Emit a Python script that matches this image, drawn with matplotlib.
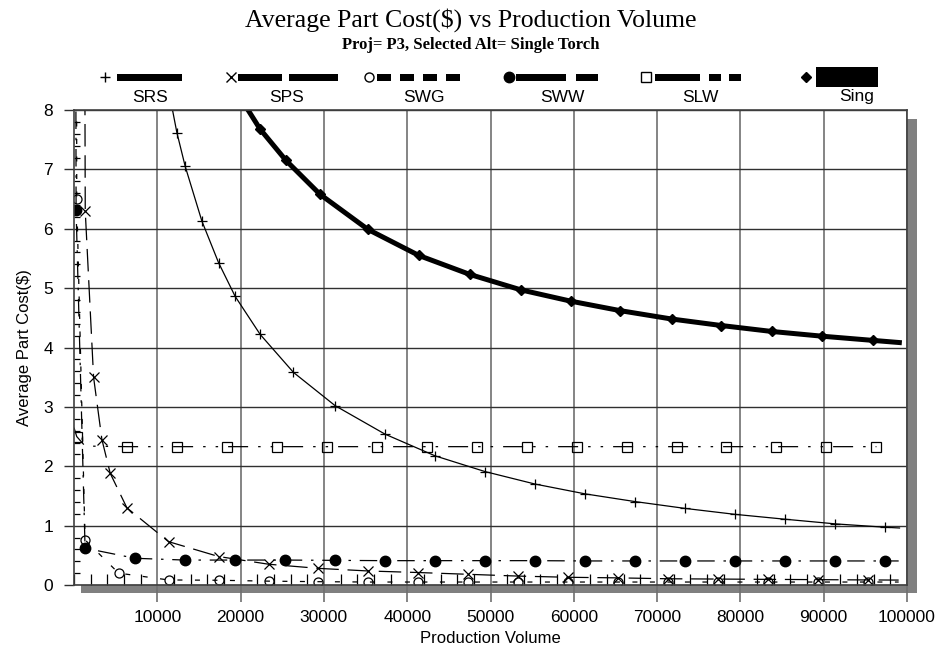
import numpy as np
import matplotlib
matplotlib.use("Agg")
import matplotlib.pyplot as plt
from matplotlib.patches import Rectangle
from matplotlib.ticker import MultipleLocator

# data (production volume, average part cost $)
srs_x = [11000, 12350, 13350, 15350, 17350, 19350, 22350, 26350, 31350, 37350, 43350,
         49350, 55350, 61350, 67350, 73350, 79350, 85350, 91350, 97350, 99100]
srs_y = [8.6, 7.62, 7.05, 6.13, 5.43, 4.86, 4.22, 3.58, 3.02, 2.54, 2.175,
         1.91, 1.70, 1.535, 1.405, 1.29, 1.19, 1.108, 1.03, 0.973, 0.96]

sps_x = [1200, 1350, 2350, 3350, 4350, 6350, 11350, 17350, 23350, 29350, 35350, 41350,
         47350, 53350, 59350, 65350, 71350, 77350, 83350, 89350, 95350, 99000]
sps_y = [14.0, 6.3, 3.5, 2.45, 1.88, 1.3, 0.73, 0.48, 0.35, 0.28, 0.236, 0.21,
         0.18, 0.15, 0.13, 0.12, 0.105, 0.10, 0.095, 0.09, 0.085, 0.083]

swg_x = [230, 330, 1330, 5350, 11350, 17350, 23350, 29350, 35350, 41350, 47350,
         53350, 59350, 65350, 71350, 77350, 83350, 89350, 95350, 99000]
swg_y = [20.0, 6.5, 0.76, 0.2, 0.085, 0.08, 0.065, 0.056, 0.05, 0.05, 0.05,
         0.05, 0.05, 0.05, 0.05, 0.05, 0.05, 0.05, 0.05, 0.05]

sww_x = [150, 250, 1330, 7330, 13330, 19330, 25330, 31330, 37330, 43330, 49330,
         55330, 61330, 67330, 73330, 79330, 85330, 91330, 97330, 99000]
sww_y = [15.0, 6.32, 0.62, 0.45, 0.42, 0.42, 0.42, 0.415, 0.41, 0.41, 0.41,
         0.41, 0.405, 0.405, 0.405, 0.405, 0.405, 0.405, 0.405, 0.405]

slw_x = [0, 330, 1330, 6330, 12330, 18330, 24330, 30330, 36330, 42330, 48330,
         54330, 60330, 66330, 72330, 78330, 84330, 90330, 96330]
slw_y = [2.65, 2.5, 2.34, 2.33, 2.33, 2.33, 2.33, 2.33, 2.33, 2.33, 2.33,
         2.33, 2.33, 2.33, 2.33, 2.33, 2.33, 2.33, 2.33]

sing_x = [20000, 22330, 25450, 29530, 35270, 41400, 47530, 53660, 59650, 65600,
          71730, 77720, 83770, 89840, 95880, 99380]
sing_y = [8.2, 7.68, 7.15, 6.58, 5.99, 5.55, 5.23, 4.97, 4.78, 4.62,
          4.48, 4.37, 4.27, 4.19, 4.12, 4.08]

labels = ["SRS", "SPS", "SWG", "SWW", "SLW", "Sing"]
x_ticks = [10000, 20000, 30000, 40000, 50000, 60000, 70000, 80000, 90000, 100000]
y_ticks = [0, 1, 2, 3, 4, 5, 6, 7, 8]

W, H = 943, 651
fig = plt.figure(figsize=(W / 100, H / 100), dpi=100)

# background layer in pixel coords: shadow, titles, legend
bg = fig.add_axes([0, 0, 1, 1])
bg.set_xlim(0, W)
bg.set_ylim(H, 0)
bg.axis("off")
bg.add_patch(Rectangle((81, 119), 836, 474, color="#808080", lw=0))

bg.text(471, 20, "Average Part Cost($) vs Production Volume", ha="center", va="center",
        family="Liberation Serif", fontsize=18.5)
bg.text(471, 45, "Proj= P3, Selected Alt= Single Torch", ha="center", va="center",
        family="Liberation Serif", fontsize=12, fontweight="bold")

# legend: marker, bar pattern, label below
leg_y = 77
def bars(segs, h=7):
    for a, b in segs:
        bg.add_patch(Rectangle((a, leg_y - h / 2), b - a, h, color="black", lw=0))

bg.plot(105, leg_y, marker="+", ms=7, mew=1, color="black")
bars([(117, 182)])
bg.plot(231, leg_y, marker="x", ms=6.5, mew=1, color="black")
bars([(238, 282), (289, 338)])
bg.plot(369, leg_y, marker="o", ms=6.5, mew=1, mfc="none", color="black")
bars([(377, 391), (400, 414), (423, 437), (446, 460)])
bg.plot(509, leg_y, marker="o", ms=7.5, color="black")
bars([(516, 566), (576, 598)])
bg.plot(646, leg_y, marker="s", ms=7, mew=1, mfc="none", color="black")
bars([(655, 700), (709, 721), (729, 741)])
bg.plot(806, leg_y, marker="D", ms=5.5, color="black")
bars([(816, 878)], h=20)
for lx, lab in zip([150, 287, 424, 562, 700, 857], labels):
    bg.text(lx, 97, lab, ha="center", va="center", family="Liberation Sans", fontsize=12.5)

# main plot
ax = fig.add_axes([74 / W, 1 - 585 / H, (907 - 74) / W, (585 - 110) / H])
ax.set_zorder(1)
ax.set_facecolor("white")

ax.plot(srs_x, srs_y, color="black", lw=0.9, marker="+", ms=7, mew=0.9,
        markevery=list(range(1, 20)))
ax.plot(sps_x, sps_y, color="black", lw=0.9, dashes=(18, 7), marker="x", ms=6.5, mew=0.9,
        markevery=list(range(1, 21)))
ax.plot(swg_x, swg_y, color="black", lw=0.9, dashes=(4, 10), marker="o", ms=6.5, mew=0.9,
        mfc="none", markevery=list(range(1, 19)))
ax.plot(sww_x, sww_y, color="black", lw=0.9, dashes=(14, 7, 2, 7), marker="o", ms=7.5,
        markevery=list(range(1, 19)))
ax.plot(slw_x, slw_y, color="black", lw=0.9, dashes=(16, 8, 2, 8, 2, 8), marker="s", ms=7,
        mew=0.9, mfc="none", markevery=[1] + list(range(3, 19)))
ax.plot(sing_x, sing_y, color="black", lw=3.6, marker="D", ms=5, solid_capstyle="butt",
        markevery=list(range(1, 15)))

ax.set_xlim(0, 100000)
ax.set_ylim(0, 8)
ax.set_xticks(x_ticks)
ax.set_xticklabels([str(v) for v in x_ticks])
ax.set_yticks(y_ticks)
ax.xaxis.set_minor_locator(MultipleLocator(2000))
ax.yaxis.set_minor_locator(MultipleLocator(0.2))
ax.tick_params(axis="x", which="major", direction="out", length=12, width=1.2,
               color="#707070", pad=6, labelsize=12.5)
ax.tick_params(axis="y", which="major", direction="out", length=7, width=1,
               color="#303030", pad=8, labelsize=12.5)
ax.tick_params(axis="x", which="minor", direction="in", length=8, width=0.9, color="black")
ax.tick_params(axis="y", which="minor", direction="in", length=4, width=0.9, color="black")
for lab in ax.get_xticklabels() + ax.get_yticklabels():
    lab.set_family("Liberation Sans")
ax.grid(True, axis="x", which="major", color="#707070", lw=1.2)
ax.grid(True, axis="y", which="major", color="#303030", lw=1)
for s in ax.spines.values():
    s.set_color("#404040")
    s.set_linewidth(1.2)

ax.set_xlabel("Production Volume", family="Liberation Sans", fontsize=12, labelpad=4)
ax.set_ylabel("Average Part Cost($)", family="Liberation Sans", fontsize=12, labelpad=8)

fig.savefig("out.png", dpi=100)
